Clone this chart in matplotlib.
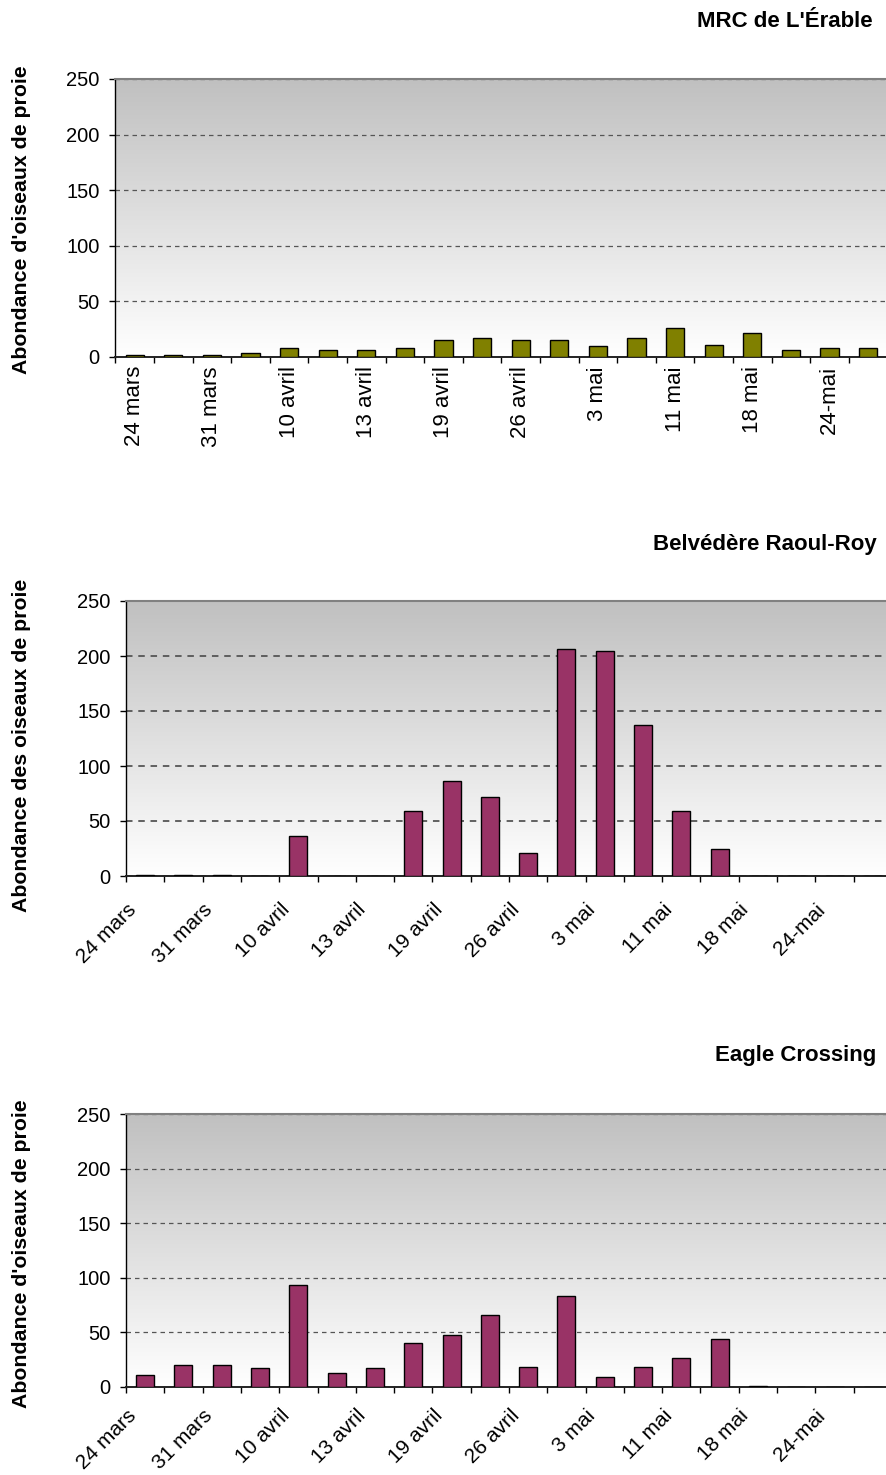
import matplotlib
matplotlib.use("Agg")
import matplotlib.pyplot as plt
import matplotlib.transforms as mtransforms
import numpy as np
from matplotlib.colors import LinearSegmentedColormap

plt.rcParams['font.family'] = ['Liberation Sans', 'DejaVu Sans']

# ---------------- data ----------------
categories = ["24 mars", "", "31 mars", "", "10 avril", "", "13 avril", "",
              "19 avril", "", "26 avril", "", "3 mai", "", "11 mai", "",
              "18 mai", "", "24-mai", ""]
tick_labels = ["24 mars", "31 mars", "10 avril", "13 avril", "19 avril",
               "26 avril", "3 mai", "11 mai", "18 mai", "24-mai"]

erable = [2, 2, 2, 4, 8, 6, 6, 8, 15, 17, 15, 15, 10, 17, 26, 11, 22, 6, 8, 8]
raoul_roy = [1, 1, 1, 0, 36, 0, 0, 59, 86, 72, 21, 206, 205, 137, 59, 25, 0, 0, 0, 0]
eagle = [11, 20, 20, 17, 93, 13, 17, 40, 48, 66, 18, 83, 9, 18, 27, 44, 1, 0, 0, 0]

titles = ["MRC de L'Érable", "Belvédère Raoul-Roy", "Eagle Crossing"]
ylabels = ["Abondance d'oiseaux de proie", "Abondance des oiseaux de proie",
           "Abondance d'oiseaux de proie"]
colors = ["#808000", "#993366", "#993366"]
yticks = [0, 50, 100, 150, 200, 250]

# ---------------- layout (pixels) ----------------
W, H = 887, 1475
fig = plt.figure(figsize=(W / 100, H / 100), dpi=100)

panels = [
    dict(l=115.4, r=887.4, t=79, b=357, rot=90, title_y=27, title_r=873, ylab_y=220,
         pad=6.5, glw=0.9),
    dict(l=126, r=892, t=601, b=876, rot=45, title_y=550, title_r=877, ylab_y=745,
         pad=22, glw=1.3),
    dict(l=126, r=892, t=1114, b=1387, rot=45, title_y=1061, title_r=876, ylab_y=1254,
         pad=18.5, glw=0.9),
]
series = [erable, raoul_roy, eagle]

grad_cmap = LinearSegmentedColormap.from_list("g", ["#ffffff", "#c0c0c0"])
grad = np.linspace(0, 1, 256).reshape(-1, 1)

for p, vals, col, title, ylab in zip(panels, series, colors, titles, ylabels):
    ax = fig.add_axes([p['l'] / W, 1 - p['b'] / H, (p['r'] - p['l']) / W, (p['b'] - p['t']) / H])
    ax.imshow(grad, cmap=grad_cmap, origin='lower', aspect='auto',
              extent=[0, 1, 0, 1], transform=ax.transAxes, zorder=0)
    x = np.arange(len(vals))
    ax.bar(x, vals, width=0.47, color=col, edgecolor='black', linewidth=1.0, zorder=3)
    ax.set_xlim(-0.5, len(vals) - 0.5)
    ax.set_ylim(0, 250)
    ax.set_yticks(yticks)
    ax.set_yticklabels([str(v) for v in yticks], fontsize=14.5)
    ax.tick_params(axis='y', direction='out', length=4.2, width=1, pad=7.0)
    ax.yaxis.grid(True, linestyle=(0, (3.6, 3.2)), color='#555555', linewidth=p['glw'], zorder=1)
    ax.set_axisbelow(True)

    # category boundary ticks
    ax.set_xticks(np.arange(-0.5, len(vals) + 0.5, 1.0))
    ax.set_xticklabels([])
    ax.tick_params(axis='x', which='major', direction='out', length=4.5, width=1)
    # labels every two categories
    ax.set_xticks(np.arange(0, len(vals), 2), minor=True)
    if p['rot'] == 90:
        ax.set_xticklabels(tick_labels, minor=True, rotation=90, fontsize=16,
                           ha='center', va='top')
        ax.tick_params(axis='x', which='minor', length=0, pad=p['pad'])
    else:
        labs = ax.set_xticklabels(tick_labels, minor=True, rotation=45, fontsize=15,
                                  ha='right', va='center', rotation_mode='anchor')
        ax.tick_params(axis='x', which='minor', length=0, pad=p['pad'])
        off = mtransforms.ScaledTranslation(-12 / 100, 0, fig.dpi_scale_trans)
        for t in labs:
            t.set_transform(t.get_transform() + off)

    ax.spines['right'].set_visible(False)
    ax.spines['top'].set_color('#808080')
    ax.spines['top'].set_linewidth(1.5)
    ax.spines['left'].set_color('black')
    ax.spines['left'].set_linewidth(1.0)
    ax.spines['bottom'].set_color('#222222')
    ax.spines['bottom'].set_linewidth(1.4)

    fig.text(p['title_r'] / W, 1 - p['title_y'] / H, title, ha='right', va='baseline',
             fontsize=16, fontweight='bold')
    fig.text(22 / W, 1 - p['ylab_y'] / H, ylab, rotation=90, ha='center', va='center',
             fontsize=15.3, fontweight='bold')

fig.savefig("out.png", dpi=100)
